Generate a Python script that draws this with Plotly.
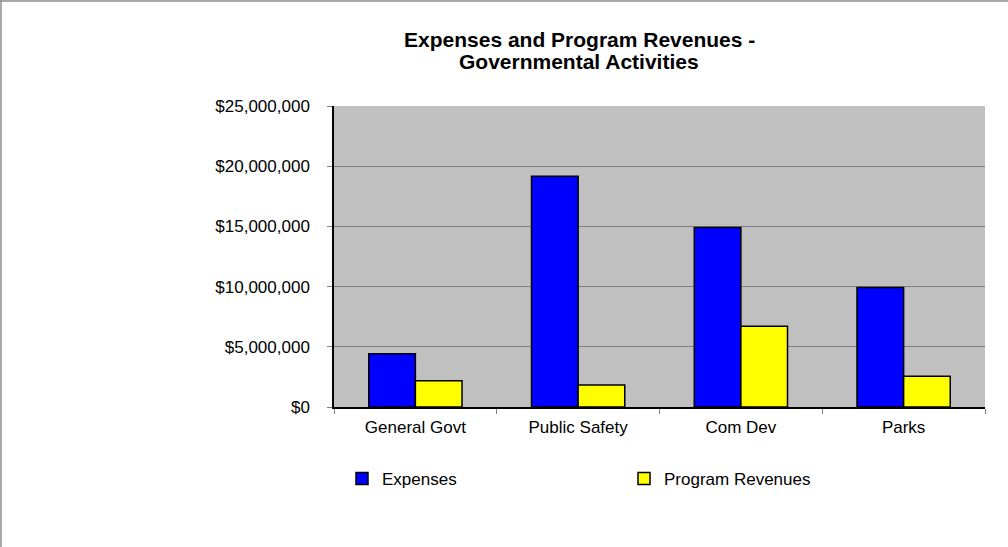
import plotly.graph_objects as go

categories = ["General Govt", "Public Safety", "Com Dev", "Parks"]
expenses = [4430000, 19160000, 14900000, 9920000]
program_revenues = [2190000, 1830000, 6700000, 2550000]
y_tick_values = [0, 5000000, 10000000, 15000000, 20000000, 25000000]
y_tick_labels = ["$0", "$5,000,000", "$10,000,000", "$15,000,000", "$20,000,000", "$25,000,000"]

W, H = 1008, 547
L, R, T, B = 334, 23, 106, 140
pw, ph = W - L - R, H - T - B


def px_x(x):
    return (x - L) / pw


def px_y(y):
    return (T + ph - y) / ph


fig = go.Figure()
fig.add_trace(go.Bar(name="Expenses", x=categories, y=expenses,
                     marker=dict(color="#0000FF", line=dict(color="black", width=1.5))))
fig.add_trace(go.Bar(name="Program Revenues", x=categories, y=program_revenues,
                     marker=dict(color="#FFFF00", line=dict(color="black", width=1.5))))

title_font = dict(size=21, family="Arial, Liberation Sans, sans-serif", color="black")
fig.update_layout(
    width=W, height=H,
    margin=dict(l=L, r=R, t=T, b=B, pad=0),
    paper_bgcolor="white",
    plot_bgcolor="#C0C0C0",
    font=dict(family="Arial, Liberation Sans, sans-serif", size=17, color="black"),
    barmode="group",
    bargap=0.427,
    bargroupgap=0,
    showlegend=True,
    legend=dict(orientation="h", x=px_x(342), y=px_y(479), xanchor="left", yanchor="middle",
                entrywidth=237, entrywidthmode="pixels", itemwidth=30,
                font=dict(size=17), bgcolor="rgba(0,0,0,0)"),
    annotations=[
        dict(text="<b>Expenses and Program Revenues -</b>", xref="paper", yref="paper",
             x=px_x(579), y=px_y(39), xanchor="center", yanchor="middle",
             showarrow=False, font=title_font),
        dict(text="<b>Governmental Activities</b>", xref="paper", yref="paper",
             x=px_x(579), y=px_y(61), xanchor="center", yanchor="middle",
             showarrow=False, font=title_font),
    ],
    shapes=[
        dict(type="line", xref="paper", yref="paper", x0=px_x(0), x1=px_x(W),
             y0=px_y(1), y1=px_y(1), line=dict(color="#8C8C8C", width=1.5)),
        dict(type="line", xref="paper", yref="paper", x0=px_x(1), x1=px_x(1),
             y0=px_y(0), y1=px_y(H), line=dict(color="#8C8C8C", width=1.5)),
    ],
)
fig.update_yaxes(range=[0, 25000000], tickvals=y_tick_values, ticktext=y_tick_labels,
                 showgrid=True, gridcolor="#808080", gridwidth=1,
                 showline=True, linecolor="black", linewidth=1.5,
                 ticks="outside", ticklen=5, tickcolor="#808080", zeroline=False,
                 ticklabelstandoff=14)
fig.update_xaxes(showline=True, linecolor="black", linewidth=1.5, showgrid=False,
                 ticks="outside", ticklen=5, tickcolor="#808080", tickson="boundaries",
                 ticklabelstandoff=4)

fig.write_html("out.html", config={"displayModeBar": False},
               post_script="document.body.style.margin='0';")
